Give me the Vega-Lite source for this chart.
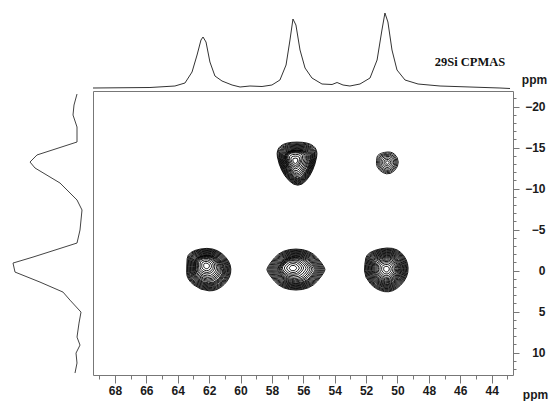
{
  "$schema": "https://vega.github.io/schema/vega-lite/v6.json",
  "padding": 0,
  "bounds": "flush",
  "spacing": 0,
  "columns": 2,
  "align": "each",
  "background": "white",
  "config": {"view": {"stroke": null}, "font": "Liberation Sans"},
  "datasets": {
    "top": [
      {"ppm": 69.40, "v": 3}, {"ppm": 65.77, "v": 3.5}, {"ppm": 64.18, "v": 5}, {"ppm": 63.54, "v": 8},
      {"ppm": 63.09, "v": 19}, {"ppm": 62.77, "v": 36}, {"ppm": 62.52, "v": 51}, {"ppm": 62.39, "v": 54},
      {"ppm": 62.20, "v": 49}, {"ppm": 61.95, "v": 29}, {"ppm": 61.63, "v": 15}, {"ppm": 61.18, "v": 10},
      {"ppm": 60.54, "v": 6}, {"ppm": 60.03, "v": 4}, {"ppm": 59.40, "v": 5}, {"ppm": 58.63, "v": 4.5},
      {"ppm": 58.00, "v": 6}, {"ppm": 57.49, "v": 11}, {"ppm": 57.10, "v": 26}, {"ppm": 56.85, "v": 51},
      {"ppm": 56.66, "v": 72}, {"ppm": 56.47, "v": 66}, {"ppm": 56.21, "v": 41}, {"ppm": 55.89, "v": 23},
      {"ppm": 55.45, "v": 13}, {"ppm": 54.81, "v": 7}, {"ppm": 54.17, "v": 6.5}, {"ppm": 53.85, "v": 8.5},
      {"ppm": 53.47, "v": 6}, {"ppm": 53.03, "v": 5}, {"ppm": 52.39, "v": 7}, {"ppm": 51.75, "v": 13},
      {"ppm": 51.30, "v": 31}, {"ppm": 50.99, "v": 61}, {"ppm": 50.80, "v": 78}, {"ppm": 50.61, "v": 69},
      {"ppm": 50.35, "v": 41}, {"ppm": 50.03, "v": 21}, {"ppm": 49.52, "v": 11}, {"ppm": 48.69, "v": 7},
      {"ppm": 47.29, "v": 5}, {"ppm": 45.38, "v": 4}, {"ppm": 43.47, "v": 3}, {"ppm": 42.83, "v": 2.5}
    ],
    "left": [
      {"ppm": -21.54, "v": 16}, {"ppm": -20.20, "v": 19}, {"ppm": -18.98, "v": 20}, {"ppm": -17.52, "v": 16},
      {"ppm": -15.69, "v": 16}, {"ppm": -14.11, "v": 56}, {"ppm": -13.25, "v": 63}, {"ppm": -12.52, "v": 58},
      {"ppm": -10.69, "v": 33}, {"ppm": -8.62, "v": 16}, {"ppm": -7.40, "v": 11}, {"ppm": -4.96, "v": 13},
      {"ppm": -3.37, "v": 16}, {"ppm": -1.66, "v": 60}, {"ppm": -0.93, "v": 80}, {"ppm": 0.17, "v": 78},
      {"ppm": 1.39, "v": 53}, {"ppm": 2.61, "v": 30}, {"ppm": 3.59, "v": 23}, {"ppm": 5.05, "v": 12},
      {"ppm": 6.39, "v": 14}, {"ppm": 8.10, "v": 16}, {"ppm": 9.07, "v": 13}, {"ppm": 10.05, "v": 17},
      {"ppm": 11.26, "v": 16}, {"ppm": 12.48, "v": 18}
    ],
    "peaks": [
      {"p": "A", "x": 62.07, "y": -0.32, "r": 1}, {"p": "A", "x": 62.07, "y": -0.32, "r": 0.965},
      {"p": "A", "x": 62.07, "y": -0.32, "r": 0.93}, {"p": "A", "x": 62.07, "y": -0.32, "r": 0.895},
      {"p": "A", "x": 62.07, "y": -0.32, "r": 0.86}, {"p": "A", "x": 62.07, "y": -0.32, "r": 0.825},
      {"p": "A", "x": 62.07, "y": -0.32, "r": 0.79}, {"p": "A", "x": 62.07, "y": -0.32, "r": 0.755},
      {"p": "A", "x": 62.07, "y": -0.32, "r": 0.72}, {"p": "A", "x": 62.07, "y": -0.32, "r": 0.685},
      {"p": "A", "x": 62.07, "y": -0.32, "r": 0.65}, {"p": "A", "x": 62.09, "y": -0.38, "r": 0.61},
      {"p": "A", "x": 62.10, "y": -0.42, "r": 0.57}, {"p": "A", "x": 62.12, "y": -0.46, "r": 0.53},
      {"p": "A", "x": 62.13, "y": -0.50, "r": 0.48}, {"p": "A", "x": 62.15, "y": -0.55, "r": 0.43},
      {"p": "A", "x": 62.17, "y": -0.61, "r": 0.37}, {"p": "A", "x": 62.17, "y": -0.61, "r": 0.3},
      {"p": "A", "x": 62.17, "y": -0.61, "r": 0.22}, {"p": "A", "x": 62.17, "y": -0.61, "r": 0.13},
      {"p": "B", "x": 56.47, "y": -0.14, "r": 1}, {"p": "B", "x": 56.47, "y": -0.14, "r": 0.965},
      {"p": "B", "x": 56.47, "y": -0.14, "r": 0.93}, {"p": "B", "x": 56.47, "y": -0.14, "r": 0.895},
      {"p": "B", "x": 56.47, "y": -0.14, "r": 0.86}, {"p": "B", "x": 56.47, "y": -0.14, "r": 0.825},
      {"p": "B", "x": 56.47, "y": -0.14, "r": 0.79}, {"p": "B", "x": 56.47, "y": -0.14, "r": 0.755},
      {"p": "B", "x": 56.47, "y": -0.14, "r": 0.72}, {"p": "B", "x": 56.47, "y": -0.14, "r": 0.685},
      {"p": "B", "x": 56.47, "y": -0.14, "r": 0.65}, {"p": "B", "x": 56.50, "y": -0.17, "r": 0.61},
      {"p": "B", "x": 56.52, "y": -0.19, "r": 0.57}, {"p": "B", "x": 56.55, "y": -0.22, "r": 0.53},
      {"p": "B", "x": 56.58, "y": -0.25, "r": 0.48}, {"p": "B", "x": 56.62, "y": -0.28, "r": 0.43},
      {"p": "B", "x": 56.66, "y": -0.32, "r": 0.37}, {"p": "B", "x": 56.66, "y": -0.32, "r": 0.3},
      {"p": "B", "x": 56.66, "y": -0.32, "r": 0.22}, {"p": "B", "x": 56.66, "y": -0.32, "r": 0.13},
      {"p": "C", "x": 50.70, "y": -0.20, "r": 1}, {"p": "C", "x": 50.70, "y": -0.20, "r": 0.965},
      {"p": "C", "x": 50.70, "y": -0.20, "r": 0.93}, {"p": "C", "x": 50.70, "y": -0.20, "r": 0.895},
      {"p": "C", "x": 50.70, "y": -0.20, "r": 0.86}, {"p": "C", "x": 50.70, "y": -0.20, "r": 0.825},
      {"p": "C", "x": 50.70, "y": -0.20, "r": 0.79}, {"p": "C", "x": 50.70, "y": -0.20, "r": 0.755},
      {"p": "C", "x": 50.70, "y": -0.20, "r": 0.72}, {"p": "C", "x": 50.70, "y": -0.20, "r": 0.685},
      {"p": "C", "x": 50.70, "y": -0.20, "r": 0.65}, {"p": "C", "x": 50.70, "y": -0.20, "r": 0.61},
      {"p": "C", "x": 50.70, "y": -0.20, "r": 0.57}, {"p": "C", "x": 50.70, "y": -0.20, "r": 0.53},
      {"p": "C", "x": 50.70, "y": -0.20, "r": 0.48}, {"p": "C", "x": 50.70, "y": -0.20, "r": 0.43},
      {"p": "C", "x": 50.70, "y": -0.20, "r": 0.37}, {"p": "C", "x": 50.70, "y": -0.20, "r": 0.3},
      {"p": "C", "x": 50.70, "y": -0.20, "r": 0.22}, {"p": "C", "x": 50.70, "y": -0.20, "r": 0.13},
      {"p": "D", "x": 56.40, "y": -12.95, "r": 1}, {"p": "D", "x": 56.40, "y": -12.95, "r": 0.965},
      {"p": "D", "x": 56.40, "y": -12.95, "r": 0.93}, {"p": "D", "x": 56.40, "y": -12.95, "r": 0.895},
      {"p": "D", "x": 56.40, "y": -12.95, "r": 0.86}, {"p": "D", "x": 56.40, "y": -12.95, "r": 0.825},
      {"p": "D", "x": 56.40, "y": -12.95, "r": 0.79}, {"p": "D", "x": 56.40, "y": -12.95, "r": 0.755},
      {"p": "D", "x": 56.40, "y": -12.95, "r": 0.72}, {"p": "D", "x": 56.40, "y": -12.95, "r": 0.685},
      {"p": "D", "x": 56.40, "y": -12.95, "r": 0.65}, {"p": "D", "x": 56.42, "y": -13.02, "r": 0.61},
      {"p": "D", "x": 56.43, "y": -13.08, "r": 0.57}, {"p": "D", "x": 56.45, "y": -13.14, "r": 0.53},
      {"p": "D", "x": 56.47, "y": -13.21, "r": 0.48}, {"p": "D", "x": 56.49, "y": -13.29, "r": 0.43},
      {"p": "D", "x": 56.51, "y": -13.37, "r": 0.37}, {"p": "D", "x": 56.51, "y": -13.37, "r": 0.3},
      {"p": "D", "x": 56.51, "y": -13.37, "r": 0.22}, {"p": "D", "x": 56.51, "y": -13.37, "r": 0.13},
      {"p": "E", "x": 50.64, "y": -13.19, "r": 1}, {"p": "E", "x": 50.64, "y": -13.19, "r": 0.9},
      {"p": "E", "x": 50.64, "y": -13.19, "r": 0.8}, {"p": "E", "x": 50.64, "y": -13.19, "r": 0.7},
      {"p": "E", "x": 50.64, "y": -13.19, "r": 0.58}, {"p": "E", "x": 50.64, "y": -13.19, "r": 0.44},
      {"p": "E", "x": 50.64, "y": -13.19, "r": 0.3}, {"p": "E", "x": 50.64, "y": -13.19, "r": 0.16}
    ]
  },
  "concat": [
    {
      "width": 93,
      "height": 91,
      "data": {"values": [{"a": 0}]},
      "mark": {"type": "text", "text": ""},
      "encoding": {}
    },
    {
      "width": 420,
      "height": 91,
      "layer": [
        {
          "data": {"name": "top"},
          "mark": {"type": "line", "color": "#333333", "strokeWidth": 1},
          "encoding": {
            "x": {"field": "ppm", "type": "quantitative", "scale": {"domain": [42.64, 69.40], "reverse": true, "nice": false, "zero": false}, "axis": null},
            "y": {"field": "v", "type": "quantitative", "scale": {"domain": [0, 91], "nice": false, "zero": false}, "axis": null}
          }
        },
        {
          "data": {"values": [{"label": "29Si CPMAS", "ppm": 45.38, "v": 29}]},
          "mark": {"type": "text", "font": "Liberation Serif", "fontWeight": "bold", "fontSize": 12.5, "color": "#111111", "align": "center", "baseline": "middle"},
          "encoding": {
            "x": {"field": "ppm", "type": "quantitative"},
            "y": {"field": "v", "type": "quantitative"},
            "text": {"field": "label"}
          }
        }
      ]
    },
    {
      "width": 93,
      "height": 284,
      "data": {"name": "left"},
      "mark": {"type": "line", "color": "#444444", "strokeWidth": 1},
      "encoding": {
        "x": {"field": "v", "type": "quantitative", "scale": {"domain": [0, 93], "reverse": true, "nice": false, "zero": false}, "axis": null},
        "y": {"field": "ppm", "type": "quantitative", "scale": {"domain": [-21.91, 12.72], "reverse": true, "nice": false, "zero": false}, "axis": null},
        "order": {"field": "ppm", "type": "quantitative"}
      }
    },
    {
      "width": 420,
      "height": 284,
      "view": {"stroke": "#777777", "strokeWidth": 1},
      "data": {"name": "peaks"},
      "mark": {"type": "point", "filled": false, "color": "#000000", "strokeWidth": 0.9, "opacity": 1},
      "encoding": {
        "x": {
          "field": "x", "type": "quantitative",
          "scale": {"domain": [42.64, 69.40], "reverse": true, "nice": false, "zero": false},
          "axis": {
            "values": [43, 44, 45, 46, 47, 48, 49, 50, 51, 52, 53, 54, 55, 56, 57, 58, 59, 60, 61, 62, 63, 64, 65, 66, 67, 68, 69],
            "labelExpr": "datum.value % 2 == 0 ? datum.label : ''",
            "tickSize": {"condition": {"test": "datum.value % 2 == 0", "value": 8}, "value": 4},
            "domain": false, "grid": false, "tickColor": "#777777", "tickWidth": 1,
            "labelFont": "Liberation Sans", "labelFontSize": 12, "labelFontWeight": "bold", "labelColor": "#1a1a1a",
            "labelPadding": 2, "labelOverlap": false, "labelFlush": false,
            "title": "ppm", "titleFont": "Liberation Sans", "titleFontSize": 12, "titleFontWeight": "bold", "titleColor": "#1a1a1a",
            "titleX": 442, "titleY": 23, "titleBaseline": "alphabetic", "titleAlign": "center"
          }
        },
        "y": {
          "field": "y", "type": "quantitative",
          "scale": {"domain": [-21.91, 12.72], "reverse": true, "nice": false, "zero": false},
          "axis": {
            "orient": "right",
            "values": [-21, -20, -19, -18, -17, -16, -15, -14, -13, -12, -11, -10, -9, -8, -7, -6, -5, -4, -3, -2, -1, 0, 1, 2, 3, 4, 5, 6, 7, 8, 9, 10, 11, 12],
            "labelExpr": "datum.value % 5 == 0 ? datum.label : ''",
            "tickSize": {"condition": {"test": "datum.value % 5 == 0", "value": 6}, "value": 3},
            "domain": false, "grid": false, "tickColor": "#777777", "tickWidth": 1,
            "labelFont": "Liberation Sans", "labelFontSize": 12, "labelFontWeight": "bold", "labelColor": "#1a1a1a",
            "labelAlign": "right", "labelBaseline": "middle", "labelPadding": 26, "labelOverlap": false, "labelFlush": false,
            "title": "ppm", "titleAngle": 0, "titleFont": "Liberation Sans", "titleFontSize": 12, "titleFontWeight": "bold", "titleColor": "#1a1a1a",
            "titleX": 21, "titleY": -8, "titleBaseline": "alphabetic", "titleAlign": "center"
          }
        },
        "shape": {
          "field": "p", "type": "nominal", "legend": null,
          "scale": {
            "domain": ["A", "B", "C", "D", "E"],
            "range": [
              "M-1.045,-0.465Q-1.02,-0.84,-0.37,-0.955Q0.28,-1.07,0.7,-0.72Q1.12,-0.37,1.14,0.05Q1.16,0.47,0.815,0.815Q0.47,1.16,0.05,1.14Q-0.37,1.12,-0.72,0.84Q-1.07,0.56,-1.07,0.235Q-1.07,-0.09,-1.045,-0.465Z",
              "M-1.075,-0.58Q-0.7,-1.025,0,-1.025Q0.7,-1.025,1.075,-0.58Q1.45,-0.135,1.45,0Q1.45,0.135,1.075,0.58Q0.7,1.025,0,1.025Q-0.7,1.025,-1.075,0.58Q-1.45,0.135,-1.45,0Q-1.45,-0.135,-1.075,-0.58Z",
              "M-1.035,-0.55Q-0.97,-0.87,-0.3,-1.01Q0.37,-1.15,0.715,-0.83Q1.06,-0.51,1.08,-0.05Q1.1,0.41,0.71,0.805Q0.32,1.2,-0.095,1.13Q-0.51,1.06,-0.805,0.735Q-1.1,0.41,-1.1,0.09Q-1.1,-0.23,-1.035,-0.55Z",
              "M-0.98,-0.375Q-1.12,-1.12,0,-1.12Q1.12,-1.12,0.98,-0.375Q0.84,0.37,0.445,0.815Q0.05,1.26,-0.395,0.815Q-0.84,0.37,-0.98,-0.375Z",
              "M-0.5175,-0.275Q-0.485,-0.435,-0.15,-0.505Q0.185,-0.575,0.3575,-0.415Q0.53,-0.255,0.54,-0.025Q0.55,0.205,0.355,0.4025Q0.16,0.6,-0.0475,0.565Q-0.255,0.53,-0.4025,0.3675Q-0.55,0.205,-0.55,0.045Q-0.55,-0.115,-0.5175,-0.275Z"
            ]
          }
        },
        "size": {
          "field": "r", "type": "quantitative", "legend": null,
          "scale": {"type": "pow", "exponent": 2, "domain": [0, 1], "range": [0, 1600]}
        }
      }
    }
  ]
}
